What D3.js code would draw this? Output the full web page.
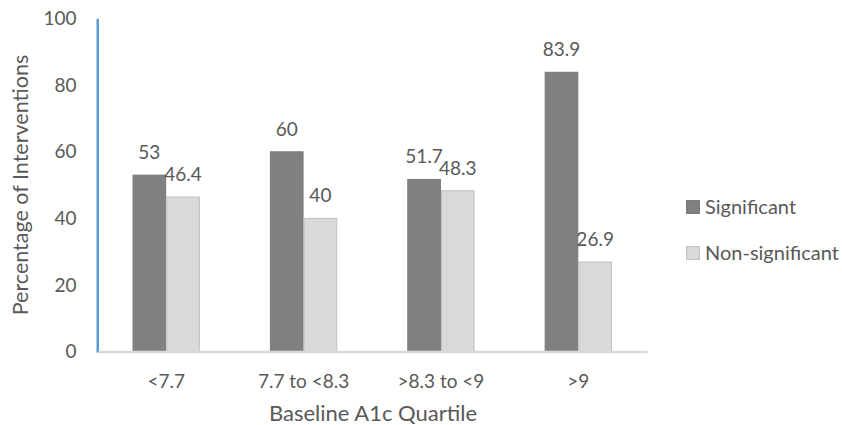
<!DOCTYPE html>
<html>
<head>
<meta charset="utf-8">
<script src="https://cdn.jsdelivr.net/npm/d3@7"></script>
<style>
  html, body { margin: 0; padding: 0; background: #fff; }
  svg text { font-family: Lato, "Open Sans", sans-serif; fill: #595959; }
</style>
</head>
<body>
<svg id="chart" width="842" height="425"></svg>
<script>
// Quartile categories and the share of interventions in each
const categories = ["<7.7", "7.7 to <8.3", ">8.3 to <9", ">9"];
const seriesNames = ["Significant", "Non-significant"];
const significant = [53, 60, 51.7, 83.9];
const nonSignificant = [46.4, 40, 48.3, 26.9];
const yTicks = [0, 20, 40, 60, 80, 100];

const seriesValues = [significant, nonSignificant];
const fills = ["#808080", "#d9d9d9"];
const strokes = ["#7a7a7a", "#bfbfbf"];

const svg = d3.select("#chart");
const plot = { left: 97.5, right: 647, top: 18.7, bottom: 351.5 };

const x = d3.scaleBand().domain(categories).range([plot.left, plot.right])
  .paddingInner(0.51).paddingOuter(0.255);
const xs = d3.scaleBand().domain(seriesNames).range([0, x.bandwidth()]);
const y = d3.scaleLinear().domain([0, 100]).range([plot.bottom, plot.top]);

// y axis: labels only, with a blue spine
const yAxis = svg.append("g")
  .attr("transform", `translate(${plot.left},0)`)
  .call(d3.axisLeft(y).tickValues(yTicks).tickSize(0).tickPadding(21));
yAxis.select(".domain").attr("stroke", "#5b9bd5").attr("stroke-width", 2);
yAxis.selectAll("text").style("font-size", "19px").attr("fill", "#595959")
  .attr("font-family", "Lato, 'Open Sans', sans-serif");

// bars
const groups = svg.append("g").selectAll("g")
  .data(categories).join("g")
  .attr("transform", d => `translate(${x(d)},0)`);

seriesNames.forEach((s, si) => {
  groups.append("rect")
    .attr("x", xs(s) + 0.5)
    .attr("width", xs.bandwidth() - 1)
    .attr("y", (d, i) => y(seriesValues[si][i]))
    .attr("height", (d, i) => y(0) - y(seriesValues[si][i]))
    .attr("fill", fills[si])
    .attr("stroke", strokes[si])
    .attr("stroke-width", 1);

  groups.append("text")
    .attr("x", xs(s) + xs.bandwidth() / 2)
    .attr("y", (d, i) => y(seriesValues[si][i]) - 16)
    .attr("text-anchor", "middle")
    .style("font-size", "19px")
    .text((d, i) => seriesValues[si][i]);
});

// x axis: gray baseline and category labels
const xAxis = svg.append("g")
  .attr("transform", `translate(0,${plot.bottom})`)
  .call(d3.axisBottom(x).tickSize(0).tickPadding(23));
xAxis.select(".domain").attr("stroke", "#d9d9d9").attr("stroke-width", 2.5);
xAxis.selectAll("text").style("font-size", "19px").attr("fill", "#595959")
  .attr("font-family", "Lato, 'Open Sans', sans-serif");
// redraw the blue spine on top of the baseline
svg.append("line")
  .attr("x1", plot.left).attr("x2", plot.left)
  .attr("y1", plot.top).attr("y2", plot.bottom + 1)
  .attr("stroke", "#5b9bd5").attr("stroke-width", 2);

// axis titles
svg.append("text")
  .attr("x", 373)
  .attr("y", 421)
  .attr("text-anchor", "middle")
  .style("font-size", "22px")
  .text("Baseline A1c Quartile");

svg.append("text")
  .attr("transform", "translate(28,185) rotate(-90)")
  .attr("text-anchor", "middle")
  .style("font-size", "21.5px")
  .text("Percentage of Interventions");

// legend
const legend = svg.append("g").selectAll("g")
  .data(seriesNames).join("g")
  .attr("transform", (d, i) => `translate(686,${200 + i * 46})`);
legend.append("rect")
  .attr("x", 0.5).attr("y", 0.5)
  .attr("width", 13).attr("height", 13)
  .attr("fill", (d, i) => fills[i])
  .attr("stroke", (d, i) => strokes[i]);
legend.append("text")
  .attr("x", 19).attr("y", 14)
  .style("font-size", "20px")
  .text(d => d);
</script>
</body>
</html>
